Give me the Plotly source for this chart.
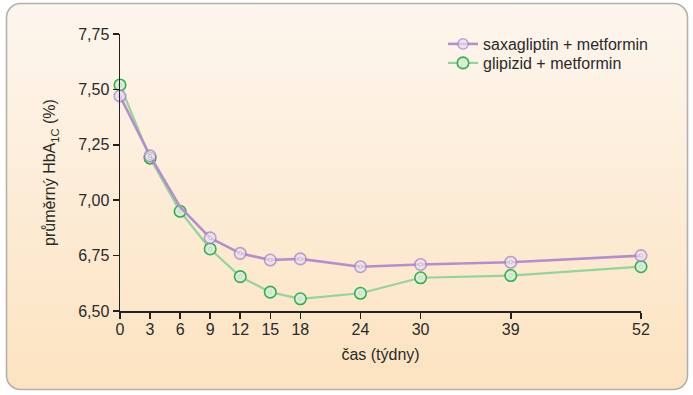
import base64
import plotly.graph_objects as go

weeks = [0, 3, 6, 9, 12, 15, 18, 24, 30, 39, 52]
saxa = [7.47, 7.20, 6.97, 6.83, 6.76, 6.73, 6.735, 6.70, 6.71, 6.72, 6.75]
saxa_marker = [1, 1, 0, 1, 1, 1, 1, 1, 1, 1, 1]
glip = [7.52, 7.19, 6.95, 6.78, 6.655, 6.585, 6.555, 6.58, 6.65, 6.66, 6.70]
x_ticks = [0, 3, 6, 9, 12, 15, 18, 24, 30, 39, 52]
y_ticks = [6.5, 6.75, 7.0, 7.25, 7.5, 7.75]
names = ["saxagliptin + metformin", "glipizid + metformin"]

W, H = 693, 395
L, R, T, B = 120, 52, 34, 84
PW, PH = W - L - R, H - T - B

svg = f'''<svg xmlns="http://www.w3.org/2000/svg" width="{W}" height="{H}" viewBox="0 0 {W} {H}">
<defs><linearGradient id="g" x1="0" y1="0" x2="0" y2="1">
<stop offset="0" stop-color="#fdf6ee"/><stop offset="1" stop-color="#fce3c0"/></linearGradient></defs>
<rect x="6.5" y="3.5" width="681" height="386" rx="14" ry="14" fill="url(#g)" stroke="#b4b0ac" stroke-width="1.6"/>
</svg>'''
src = "data:image/svg+xml;base64," + base64.b64encode(svg.encode()).decode()

font = "Liberation Sans, Arial, sans-serif"
fig = go.Figure()

fig.add_trace(go.Scatter(
    x=weeks, y=glip, mode="lines+markers", name=names[1], legend="legend2",
    line=dict(color="#93d49c", width=2.2),
    marker=dict(symbol="circle", size=11.5, color="#d6efd6",
                line=dict(color="#34ae4e", width=1.6)),
    cliponaxis=False, hoverinfo="skip"))
fig.add_trace(go.Scatter(
    x=weeks, y=saxa, mode="lines+markers", name=names[0], legend="legend",
    line=dict(color="#b38fd0", width=2.6),
    marker=dict(symbol="circle", size=[11.5 * m for m in saxa_marker], color="#eadff2",
                line=dict(color="#a27ec6", width=[1.6 * m for m in saxa_marker])),
    cliponaxis=False, hoverinfo="skip"))
# center dots
for ys, ms in ((glip, [1] * len(glip)), (saxa, saxa_marker)):
    fig.add_trace(go.Scatter(
        x=weeks, y=ys, mode="markers", showlegend=False, hoverinfo="skip",
        marker=dict(size=[3 * m for m in ms], color="#ffffff",
                    line=dict(color="#9a9a9a", width=[0.6 * m for m in ms])),
        cliponaxis=False))

leg_common = dict(xanchor="left", yanchor="middle", bgcolor="rgba(0,0,0,0)",
                  font=dict(size=16, family=font, color="#2a2a2a"), itemwidth=30)

fig.update_layout(
    width=W, height=H,
    margin=dict(l=L, r=R, t=T, b=B, pad=0),
    paper_bgcolor="white", plot_bgcolor="rgba(0,0,0,0)",
    separators=", ",
    hovermode=False,
    font=dict(family=font, color="#2a2a2a", size=16),
    images=[dict(source=src, xref="paper", yref="paper",
                 x=-L / PW, y=1 + T / PH, sizex=W / PW, sizey=H / PH,
                 xanchor="left", yanchor="top", sizing="stretch", layer="below")],
    legend=dict(x=(443 - L) / PW, y=(311 - 44) / PH, **leg_common),
    legend2=dict(x=(443 - L) / PW, y=(311 - 63) / PH, **leg_common),
    xaxis=dict(range=[0, 52], tickmode="array", tickvals=x_ticks,
               ticktext=[str(v) for v in x_ticks],
               showgrid=False, zeroline=False, showline=True, linecolor="#222",
               linewidth=1.5, ticks="outside", ticklen=6, tickwidth=1.5, tickcolor="#222",
               tickfont=dict(size=16), ticklabelstandoff=-3,
               title=dict(text="čas (týdny)", font=dict(size=16), standoff=12)),
    yaxis=dict(range=[6.5, 7.75], tickmode="array", tickvals=y_ticks,
               ticktext=[f"{v:.2f}".replace(".", ",") for v in y_ticks],
               showgrid=False, zeroline=False, showline=True, linecolor="#222",
               linewidth=1.5, ticks="outside", ticklen=6, tickwidth=1.5, tickcolor="#222",
               tickfont=dict(size=16),
               title=dict(text="průměrný HbA<sub>1C</sub> (%)", font=dict(size=16), standoff=18)),
)

fig.write_html("out.html", post_script="document.body.style.margin='0';",
               config={"displayModeBar": False, "staticPlot": True})
